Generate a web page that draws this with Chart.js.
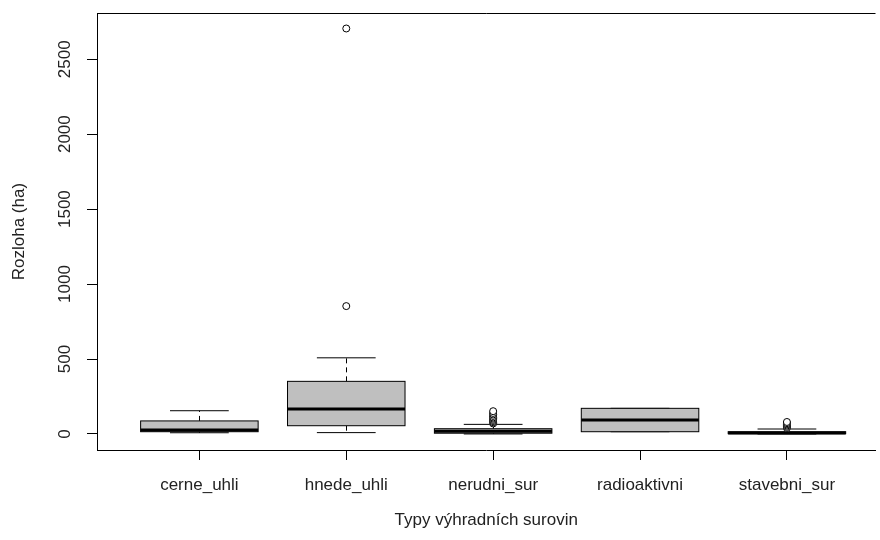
<!DOCTYPE html>
<html lang="cs">
<head>
    <meta charset="UTF-8">
    <title>Rozloha podle typu suroviny</title>
    <script src="https://cdn.jsdelivr.net/npm/chart.js"></script>
    <style>
        body, html {
            margin: 0;
            padding: 0;
            background: #fff;
        }
        canvas { display: block; }
    </style>
</head>
<body>

<canvas id="boxChart" width="880" height="540"></canvas>

<script>
    const categories = ['cerne_uhli', 'hnede_uhli', 'nerudni_sur', 'radioaktivni', 'stavebni_sur'];
    const lowerWhisker = [8, 9, 0, 15, 0];
    const q1 = [15, 55, 5, 15, 2];
    const median = [27, 167, 18, 93, 7];
    const q3 = [87, 351, 35, 171, 15];
    const upperWhisker = [155, 508, 64, 171, 33];
    const outliers = [
        [],
        [853, 2705],
        [70, 78, 86, 94, 102, 110, 120, 130, 140, 152],
        [],
        [40, 48, 56, 64, 72, 80]
    ];
    const yTicks = [0, 500, 1000, 1500, 2000, 2500];

    const font = { family: '"Liberation Sans", Arial, sans-serif', size: 17 };
    const textColor = '#222';

    const outlierPoints = [];
    outliers.forEach((list, i) => list.forEach(v => outlierPoints.push({ x: i + 1, y: v })));

    // boxes, whiskers and medians drawn from the scales
    const boxPlugin = {
        id: 'boxes',
        beforeDatasetsDraw(chart) {
            const { ctx, scales: { x, y } } = chart;
            ctx.save();
            ctx.strokeStyle = '#000';
            categories.forEach((c, i) => {
                const cx = Math.round(x.getPixelForValue(i + 1)) + 0.5;
                const bl = x.getPixelForValue(i + 0.6), br = x.getPixelForValue(i + 1.4);
                const sl = x.getPixelForValue(i + 0.8), sr = x.getPixelForValue(i + 1.2);
                const yq1 = y.getPixelForValue(q1[i]), yq3 = y.getPixelForValue(q3[i]);
                const ylo = y.getPixelForValue(lowerWhisker[i]), yhi = y.getPixelForValue(upperWhisker[i]);
                const ymed = y.getPixelForValue(median[i]);

                ctx.lineWidth = 1;
                ctx.setLineDash([5, 4]);
                ctx.beginPath();
                ctx.moveTo(cx, yq3); ctx.lineTo(cx, yhi);
                ctx.moveTo(cx, yq1); ctx.lineTo(cx, ylo);
                ctx.stroke();
                ctx.setLineDash([]);

                ctx.beginPath();
                ctx.moveTo(sl, yhi); ctx.lineTo(sr, yhi);
                ctx.moveTo(sl, ylo); ctx.lineTo(sr, ylo);
                ctx.stroke();

                ctx.fillStyle = '#bfbfbf';
                ctx.fillRect(bl, yq3, br - bl, yq1 - yq3);
                ctx.strokeRect(bl, yq3, br - bl, yq1 - yq3);

                ctx.lineWidth = 3;
                ctx.beginPath();
                ctx.moveTo(bl, ymed); ctx.lineTo(br, ymed);
                ctx.stroke();
            });
            ctx.restore();
        },
        afterDraw(chart) {
            const { ctx, chartArea: a } = chart;
            ctx.save();
            ctx.strokeStyle = '#000';
            ctx.lineWidth = 1;
            ctx.beginPath();
            ctx.moveTo(a.left, Math.round(a.top) + 0.5);
            ctx.lineTo(a.right, Math.round(a.top) + 0.5);
            ctx.stroke();
            ctx.restore();
        }
    };

    new Chart(document.getElementById('boxChart'), {
        type: 'scatter',
        data: {
            datasets: [{
                data: outlierPoints,
                pointStyle: 'circle',
                pointRadius: 3.5,
                pointHoverRadius: 3.5,
                pointBackgroundColor: '#fff',
                pointBorderColor: '#000',
                pointBorderWidth: 1
            }]
        },
        options: {
            responsive: false,
            animation: false,
            devicePixelRatio: 1,
            layout: { padding: { top: 13, right: 0, left: 0, bottom: 0 } },
            plugins: {
                legend: { display: false },
                tooltip: { enabled: false }
            },
            scales: {
                x: {
                    type: 'linear',
                    min: 0.303,
                    max: 5.603,
                    afterFit: s => { s.height = 90; },
                    afterBuildTicks: s => { s.ticks = categories.map((c, i) => ({ value: i + 1 })); },
                    ticks: {
                        callback: v => categories[v - 1],
                        font: font,
                        color: textColor,
                        padding: 15,
                        maxRotation: 0,
                        autoSkip: false
                    },
                    grid: {
                        drawOnChartArea: false,
                        drawTicks: true,
                        tickLength: 10,
                        tickColor: '#000'
                    },
                    border: { display: true, color: '#000' },
                    title: {
                        display: true,
                        text: 'Typy výhradních surovin',
                        font: font,
                        color: textColor,
                        padding: { top: 0, bottom: 9 }
                    }
                },
                y: {
                    type: 'linear',
                    min: -107,
                    max: 2807,
                    afterFit: s => { s.width = 97; },
                    afterBuildTicks: s => { s.ticks = yTicks.map(v => ({ value: v })); },
                    ticks: {
                        callback: v => String(v),
                        font: font,
                        color: textColor,
                        minRotation: 90,
                        maxRotation: 90,
                        crossAlign: 'center',
                        padding: 3
                    },
                    grid: {
                        drawOnChartArea: false,
                        drawTicks: true,
                        tickLength: 10,
                        tickColor: '#000'
                    },
                    border: { display: true, color: '#000' },
                    title: {
                        display: true,
                        text: 'Rozloha (ha)',
                        font: font,
                        color: textColor,
                        padding: { top: 9, bottom: 0 }
                    }
                }
            }
        },
        plugins: [boxPlugin]
    });
</script>

</body>
</html>
